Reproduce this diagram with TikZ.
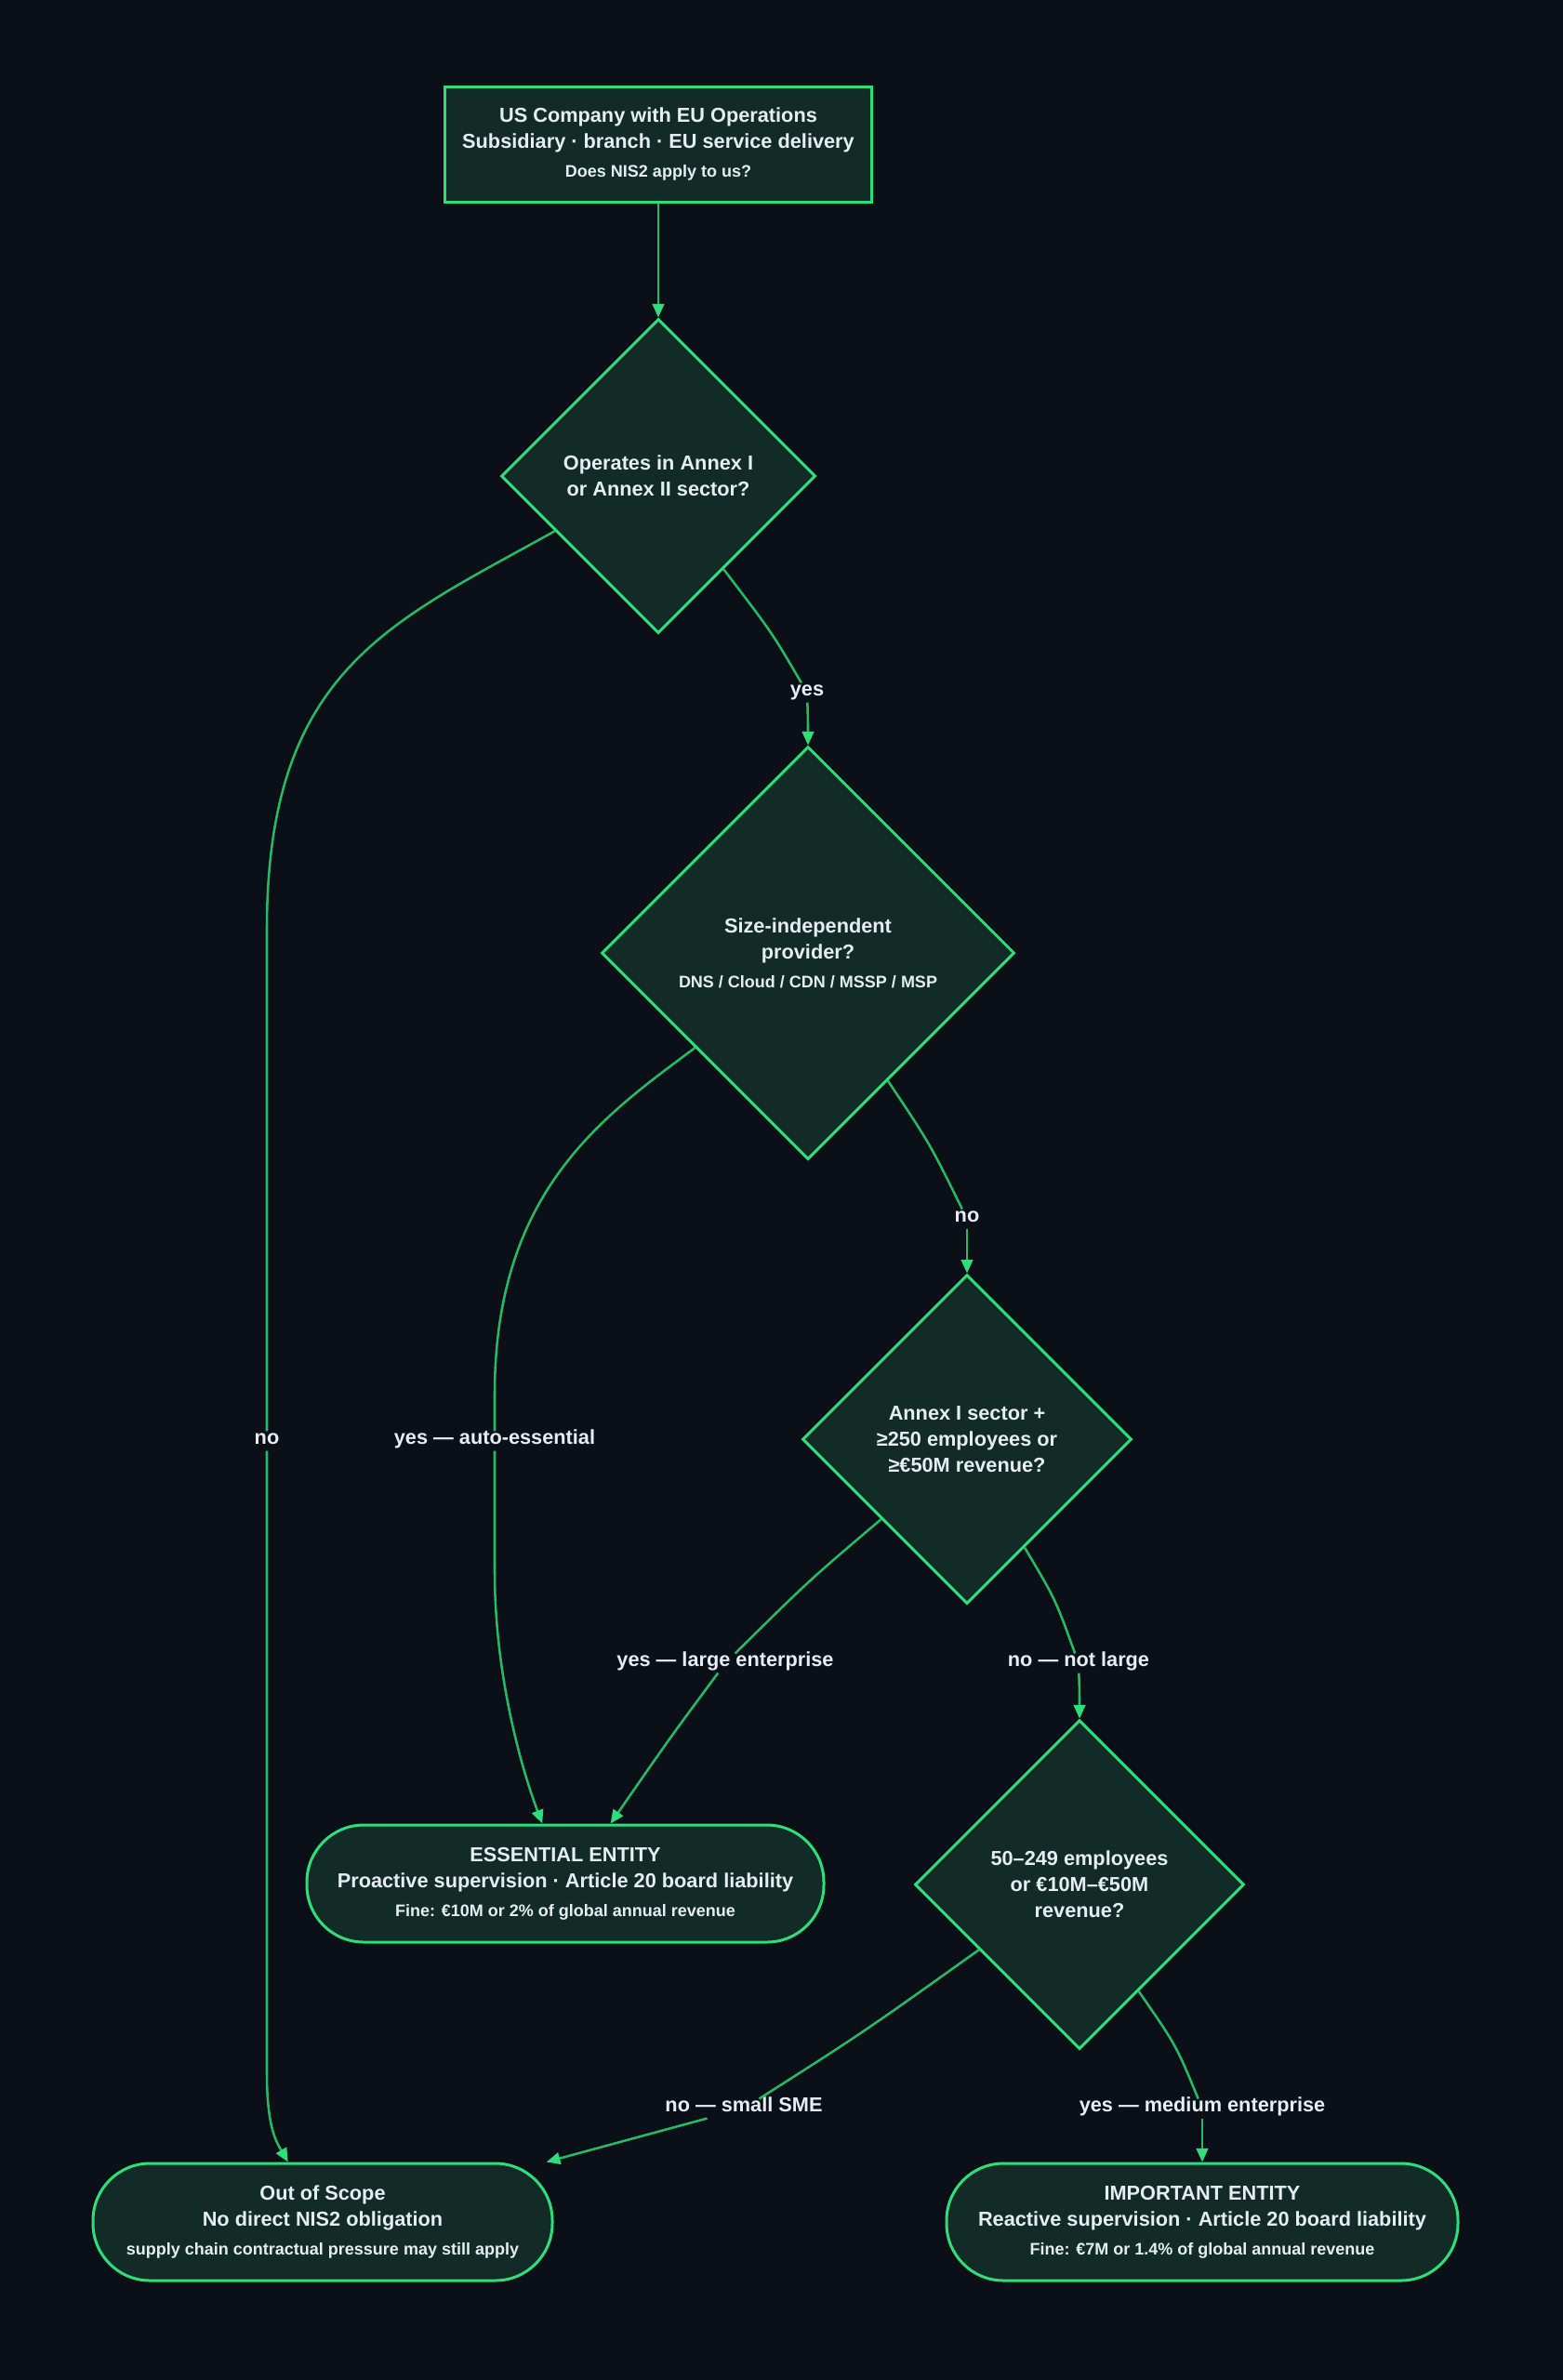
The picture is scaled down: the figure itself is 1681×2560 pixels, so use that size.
\documentclass[tikz,border=0pt]{standalone}
\usepackage{fontspec}
\setmainfont{Liberation Sans}
\definecolor{nisbg}{RGB}{11,15,23}
\definecolor{nisfill}{RGB}{18,43,38}
\definecolor{nisline}{RGB}{46,222,122}
\definecolor{nisedge}{RGB}{38,186,100}
\definecolor{nistext}{RGB}{230,237,243}
\usetikzlibrary{arrows.meta,shapes.geometric,positioning}
\newcommand{\notetext}[1]{{\fontsize{13.5}{17}\selectfont #1}}

\begin{document}
\begin{tikzpicture}[x=0.75pt, y=-0.75pt,
  every node/.style={text=nistext, font=\bfseries\fontsize{16.3}{21}\selectfont},
  box/.style={draw=nisline, fill=nisfill, line width=2.25pt, align=center, inner sep=0pt},
  decision/.style={box, diamond, aspect=1},
  terminal/.style={box, rounded corners=46pt, minimum height=94.5pt},
  edge/.style={draw=nisedge, line width=1.9pt},
  arrow/.style={edge, -{Triangle[length=11pt, width=9.5pt, color=nisline]}},
  lbl/.style={inner sep=3pt, text height=0.72em, text depth=0.22em}]

  % Canvas
  \useasboundingbox (0,0) rectangle (1681,2560);
  \fill[nisbg] (0,0) rectangle (1681,2560);

  % Start and questions
  \node[box, minimum width=344.25pt, minimum height=93pt] (start) at (708,155)
    {US Company with EU Operations\\Subsidiary · branch · EU service delivery\\[2pt]\notetext{Does NIS2 apply to us?}};
  \node[decision, minimum width=253.5pt, minimum height=253.5pt] (sector) at (708,512)
    {Operates in Annex I\\or Annex II sector?};
  \node[decision, minimum width=333pt, minimum height=333pt] (provider) at (869,1025)
    {Size-independent\\provider?\\[2pt]\notetext{DNS / Cloud / CDN / MSSP / MSP}};
  \node[decision, minimum width=265.5pt, minimum height=265.5pt] (large) at (1040,1548)
    {Annex I sector +\\≥250 employees or\\≥€50M revenue?};
  \node[decision, minimum width=265.5pt, minimum height=265.5pt] (medium) at (1161,2027)
    {50–249 employees\\or €10M–€50M\\revenue?};

  % Outcomes
  \node[terminal, minimum width=417pt] (essential) at (608,2026)
    {ESSENTIAL ENTITY\\Proactive supervision · Article 20 board liability\\[2pt]\notetext{Fine: €10M or 2\% of global annual revenue}};
  \node[terminal, minimum width=370.5pt] (outscope) at (347,2390)
    {Out of Scope\\No direct NIS2 obligation\\[2pt]\notetext{supply chain contractual pressure may still apply}};
  \node[terminal, minimum width=412.5pt] (important) at (1293,2390)
    {IMPORTANT ENTITY\\Reactive supervision · Article 20 board liability\\[2pt]\notetext{Fine: €7M or 1.4\% of global annual revenue}};

  % Edge labels
  \node[lbl] (l-yes1) at (868,745) {yes};
  \node[lbl] (l-no1) at (287,1550) {no};
  \node[lbl] (l-no2) at (1040,1311) {no};
  \node[lbl] (l-auto) at (532,1550) {yes — auto-essential};
  \node[lbl] (l-big) at (780,1789) {yes — large enterprise};
  \node[lbl] (l-notbig) at (1160,1789) {no — not large};
  \node[lbl] (l-sme) at (800,2268) {no — small SME};
  \node[lbl] (l-mid) at (1293,2268) {yes — medium enterprise};

  % Entry
  \draw[arrow] (start) -- (sector);

  % Sector question
  \draw[edge] (sector.-55) .. controls (830,680) .. (l-yes1);
  \draw[arrow] (l-yes1) .. controls (869,775) .. (provider.north);
  \draw[edge] (sector.-152) .. controls (420,670) and (287,720) .. (287,1000) -- (l-no1);
  \draw[arrow] (l-no1) -- (287,2230) .. controls (287,2290) and (298,2305) .. (outscope.120);

  % Provider question
  \draw[edge] (provider.-58) .. controls (1000,1230) .. (l-no2);
  \draw[arrow] (l-no2) .. controls (1040,1340) .. (large.north);
  \draw[edge] (provider.-140) .. controls (650,1200) and (532,1280) .. (532,1500) -- (l-auto);
  \draw[arrow] (l-auto) -- (532,1690) .. controls (532,1800) and (560,1900) .. (essential.111);

  % Size questions
  \draw[edge] (large.-137) .. controls (870,1700) .. (l-big);
  \draw[arrow] (l-big) .. controls (720,1870) .. (essential.53);
  \draw[edge] (large.-62) .. controls (1135,1720) .. (l-notbig);
  \draw[arrow] (l-notbig) .. controls (1161,1820) .. (medium.north);
  \draw[edge] (medium.-147) .. controls (930,2185) .. (l-sme);
  \draw[arrow] (l-sme) .. controls (680,2300) .. (outscope.15);
  \draw[edge] (medium.-61) .. controls (1265,2200) .. (l-mid);
  \draw[arrow] (l-mid) .. controls (1293,2300) .. (important.north);
\end{tikzpicture}
\end{document}
